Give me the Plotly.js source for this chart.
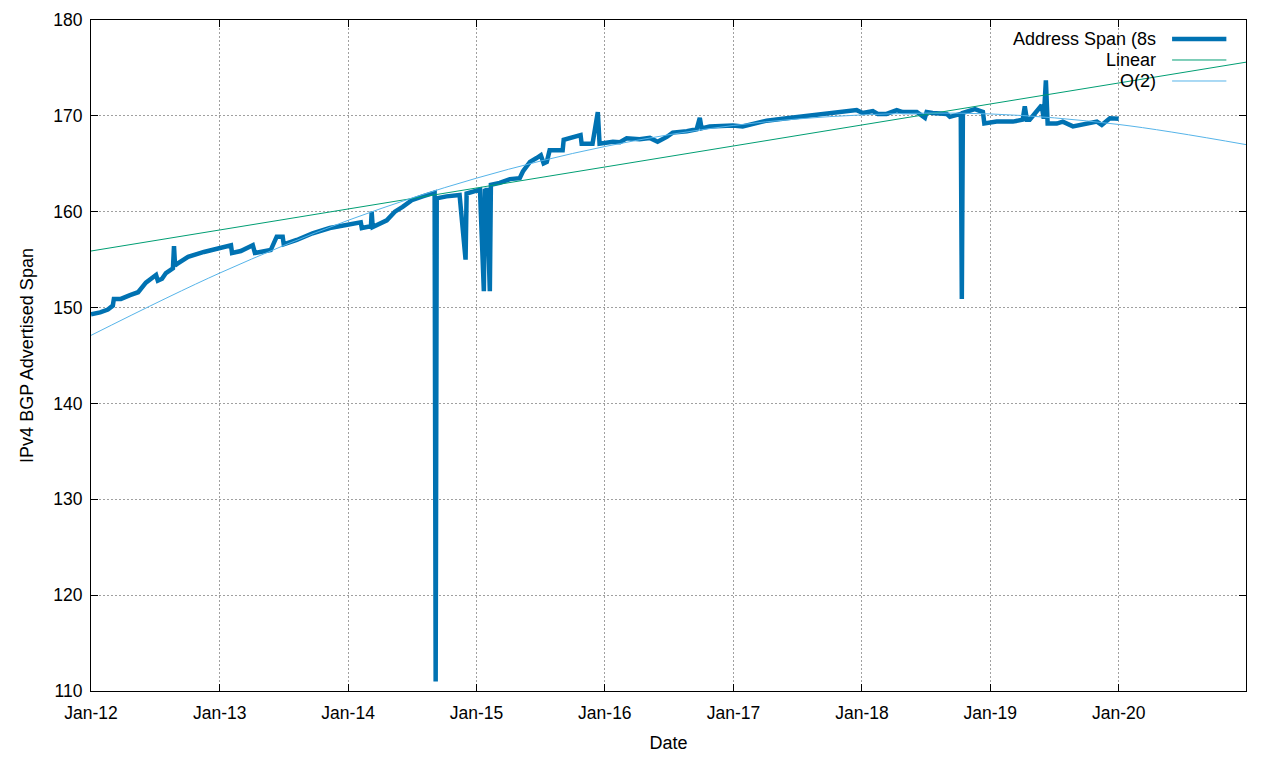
<!DOCTYPE html>
<html>
<head>
<meta charset="utf-8">
<script src="https://cdn.plot.ly/plotly-3.0.1.min.js"></script>
<style>
  html, body { margin: 0; padding: 0; background: #ffffff; }
  #chart { width: 1280px; height: 760px; }
</style>
</head>
<body>
<div id="chart"></div>
<script>
// ---- Data ----
const seriesNames = ['Address Span (8s', 'Linear', 'O(2)'];

const spanDates = [
  '2012-01-01','2012-01-27','2012-02-18','2012-03-03','2012-03-06','2012-03-26','2012-04-21','2012-05-14',
  '2012-06-05','2012-07-04','2012-07-09','2012-07-21','2012-08-01','2012-08-15','2012-08-21','2012-08-24',
  '2012-08-27','2012-09-04','2012-10-03','2012-11-17','2013-01-04','2013-02-02','2013-02-05','2013-03-02',
  '2013-04-05','2013-04-11','2013-05-26','2013-06-12','2013-06-29','2013-07-02','2013-08-08','2013-09-22',
  '2013-11-10','2013-12-29','2014-01-26','2014-02-06','2014-02-09','2014-03-07','2014-03-09','2014-03-12',
  '2014-04-21','2014-05-14','2014-06-05','2014-07-01','2014-08-01','2014-09-04','2014-09-07','2014-09-10',
  '2014-10-08','2014-11-14','2014-12-01','2014-12-04','2015-01-11','2015-01-22','2015-01-25','2015-01-28',
  '2015-01-30','2015-02-08','2015-02-11','2015-03-08','2015-04-06','2015-05-04','2015-05-13','2015-06-02',
  '2015-06-21','2015-07-03','2015-07-11','2015-07-20','2015-07-28','2015-09-03','2015-09-06','2015-10-02',
  '2015-10-24','2015-10-27','2015-11-27','2015-12-12','2015-12-17','2016-01-24','2016-02-13','2016-03-03',
  '2016-04-09','2016-05-08','2016-05-30','2016-06-25','2016-07-12','2016-08-21','2016-09-18','2016-09-27',
  '2016-10-02','2016-10-25','2016-12-12','2016-12-30','2017-01-27','2017-02-25','2017-04-05','2017-06-01',
  '2017-08-06','2017-09-23','2017-10-30','2017-12-17','2018-01-03','2018-02-01','2018-02-15','2018-03-12',
  '2018-04-10','2018-04-27','2018-06-06','2018-06-29','2018-07-04','2018-07-21','2018-08-30','2018-09-08',
  '2018-10-09','2018-10-12','2018-10-15','2018-11-04','2018-11-18','2018-12-11','2018-12-15','2019-01-19',
  '2019-03-06','2019-04-03','2019-04-09','2019-04-15','2019-04-23','2019-05-27','2019-06-02','2019-06-08',
  '2019-06-13','2019-07-09','2019-07-26','2019-08-24','2019-10-02','2019-10-31','2019-11-14','2019-12-07',
  '2020-01-01'
];
const spanValues = [
  149.3,149.5,149.8,150.2,150.9,150.9,151.3,151.6,
  152.6,153.4,152.8,153.0,153.6,153.9,154.1,156.4,
  154.4,154.6,155.3,155.8,156.2,156.5,155.7,155.9,
  156.5,155.7,156.0,157.4,157.4,156.6,157.05,157.75,
  158.3,158.6,158.8,158.9,158.3,158.5,160.0,158.4,
  159.1,160.0,160.5,161.2,161.6,162.0,111.0,161.4,
  161.6,161.75,155.0,161.9,162.3,151.7,162.4,157.2,
  162.5,151.7,162.8,163.0,163.4,163.5,164.2,165.2,
  165.6,165.9,165.05,165.2,166.4,166.4,167.5,167.8,
  168.0,167.1,167.1,170.4,167.1,167.3,167.25,167.65,
  167.55,167.7,167.3,167.8,168.25,168.4,168.6,169.8,
  168.7,168.9,169.05,169.0,168.9,169.2,169.5,169.75,
  170.0,170.2,170.4,170.6,170.3,170.5,170.2,170.2,
  170.6,170.4,170.4,169.8,170.4,170.3,170.2,169.9,
  170.2,150.9,170.3,170.5,170.7,170.4,169.2,169.4,
  169.4,169.6,171.0,169.6,169.6,171.1,169.7,173.7,
  169.2,169.2,169.4,168.9,169.15,169.4,169.05,169.75,
  169.7
];

const linearDates = ['2012-01-01', '2020-12-28'];
const linearValues = [155.9, 175.6];

const quadDates = ['2012-01-01','2013-01-01','2014-01-01','2015-01-01','2016-01-01',
                   '2017-01-01','2018-01-01','2019-01-01','2020-01-01','2020-12-28'];
const quadValues = [147.1, 153.6, 159.1, 163.5, 166.8, 169.0, 170.1, 170.2, 169.1, 167.0];

const xRange = ['2012-01-01', '2020-12-28'];
const yRange = [110, 180];

const colors = ['#0072B2', '#009E73', '#56B4E9'];
const FONT = 'Liberation Sans, Arial, sans-serif';

const traces = [
  { x: spanDates, y: spanValues, type: 'scatter', mode: 'lines', name: seriesNames[0],
    line: { color: colors[0], width: 4.5 }, showlegend: false },
  { x: linearDates, y: linearValues, type: 'scatter', mode: 'lines', name: seriesNames[1],
    line: { color: colors[1], width: 1 }, showlegend: false },
  { x: quadDates, y: quadValues, type: 'scatter', mode: 'lines', name: seriesNames[2],
    line: { color: colors[2], width: 1, shape: 'spline', smoothing: 1 }, showlegend: false }
];

// gnuplot-style key: right-aligned text, line sample to its right
const keyY = [0.9717, 0.9404, 0.9091];
const keyWidths = [4.5, 1, 1];
const annotations = seriesNames.map((n, i) => ({
  xref: 'paper', yref: 'paper', x: 0.9238, y: keyY[i], xanchor: 'right', yanchor: 'middle',
  text: n, showarrow: false, font: { family: FONT, size: 18, color: '#000' }
}));
const shapes = seriesNames.map((n, i) => ({
  type: 'line', xref: 'paper', yref: 'paper', x0: 0.936, x1: 0.983, y0: keyY[i], y1: keyY[i],
  line: { color: colors[i], width: keyWidths[i] }
}));

const axisCommon = {
  showline: true, mirror: 'ticks', linecolor: '#000', linewidth: 1,
  ticks: 'inside', ticklen: 7, tickcolor: '#000', tickwidth: 1,
  showgrid: true, gridcolor: '#a0a0a0', gridwidth: 1, griddash: '2px,2px',
  zeroline: false,
  tickfont: { family: FONT, size: 17.5, color: '#000' }
};

const layout = {
  width: 1280, height: 760,
  margin: { l: 91, r: 34, t: 20, b: 69 },
  paper_bgcolor: '#fff', plot_bgcolor: '#fff',
  font: { family: FONT, size: 17.5, color: '#000' },
  xaxis: Object.assign({}, axisCommon, {
    type: 'date', range: xRange, tick0: '2012-01-01', dtick: 'M12', tickformat: '%b-%y',
    ticklabelstandoff: 6,
    title: { text: 'Date', font: { family: FONT, size: 18, color: '#000' }, standoff: 14 }
  }),
  yaxis: Object.assign({}, axisCommon, {
    range: yRange, dtick: 10, tick0: 110,
    ticklabelstandoff: 4,
    title: { text: 'IPv4 BGP Advertised Span', font: { family: FONT, size: 18, color: '#000' }, standoff: 14 }
  }),
  annotations: annotations,
  shapes: shapes,
  showlegend: false
};

Plotly.newPlot('chart', traces, layout, { staticPlot: true, displayModeBar: false });
</script>
</body>
</html>
